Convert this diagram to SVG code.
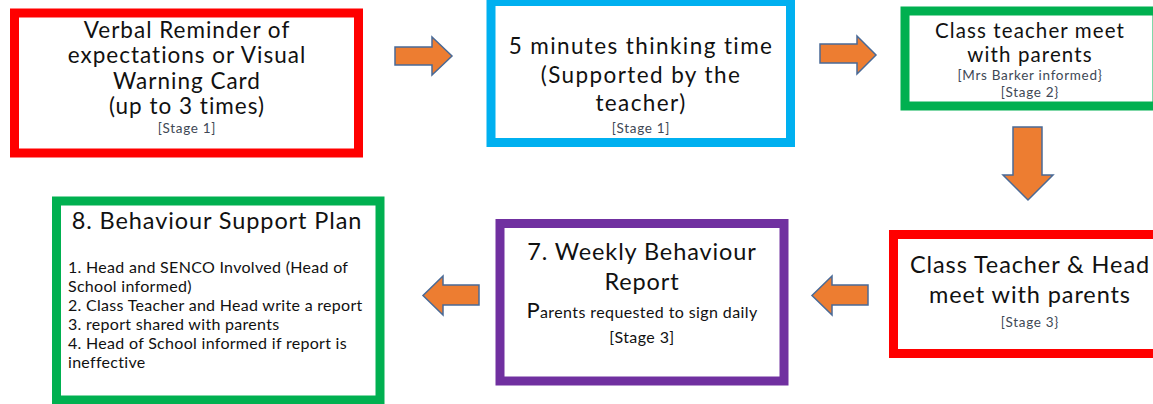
<svg xmlns="http://www.w3.org/2000/svg" width="1153" height="404" viewBox="0 0 1153 404">
<defs>
<style>
.box{fill:#fff;stroke-width:9}
.red{stroke:#FF0000}
.blue{stroke:#00B0F0}
.green{stroke:#00B050}
.purple{stroke:#7030A0}
text{font-family:Lato,"Open Sans","Liberation Sans",sans-serif;fill:#111}
.c{text-anchor:middle}
.big{font-size:22.5px;letter-spacing:1px}
.big2{font-size:22.5px;letter-spacing:1.4px}
.lg{font-size:23.5px;letter-spacing:0.9px}
.mid{font-size:20.5px;letter-spacing:1.1px}
.sm{font-size:13.5px;letter-spacing:0.7px;fill:#404855}
.body{font-size:16px;letter-spacing:0.4px}
.list{font-size:16px;letter-spacing:0.3px}
.arrow{fill:#ED7D31;stroke:#4A6A96;stroke-width:1.5;stroke-linejoin:miter}
</style>
</defs>
<rect width="1153" height="404" fill="#fff"/>
<g id="node1">
<rect class="box red" x="14.5" y="13" width="344" height="140"/>
<text class="c big" x="187" y="38">Verbal Reminder of</text>
<text class="c big" x="187" y="63">expectations or Visual</text>
<text class="c big" x="187" y="88.5">Warning Card</text>
<text class="c big" x="187" y="113.5">(up to 3 times)</text>
<text class="c sm" x="187" y="133">[Stage 1]</text>
</g>
<g id="node2">
<rect class="box blue" x="491" y="1.5" width="299.5" height="141"/>
<text class="c big2" x="641" y="54">5 minutes thinking time</text>
<text class="c big2" x="641" y="83">(Supported by the</text>
<text class="c big2" x="641" y="111">teacher)</text>
<text class="c sm" x="641" y="133">[Stage 1]</text>
</g>
<g id="node3">
<rect class="box green" x="905" y="11" width="252" height="95"/>
<text class="c mid" x="1030" y="38">Class teacher meet</text>
<text class="c mid" x="1030" y="62">with parents</text>
<text class="c sm" x="1030" y="80">[Mrs Barker informed}</text>
<text class="c sm" x="1030" y="97">[Stage 2}</text>
</g>
<g id="node4">
<rect class="box red" x="893.5" y="234.5" width="270" height="119"/>
<text class="c lg" x="1030" y="273">Class Teacher &amp; Head</text>
<text class="c lg" x="1030" y="303">meet with parents</text>
<text class="c sm" x="1030" y="327">[Stage 3}</text>
</g>
<g id="node7">
<rect class="box purple" x="500" y="223.5" width="284" height="157.5"/>
<text class="c lg" x="642" y="260">7. Weekly Behaviour</text>
<text class="c lg" x="642" y="290">Report</text>
<text class="c body" x="642" y="318"><tspan style="font-size:22px">P</tspan>arents requested to sign daily</text>
<text class="c body" x="642" y="343">[Stage 3]</text>
</g>
<g id="node8">
<rect class="box green" x="56.5" y="201" width="323.5" height="199"/>
<text class="c lg" x="217" y="229">8. Behaviour Support Plan</text>
<text class="list" x="68" y="273">1. Head and SENCO Involved (Head of</text>
<text class="list" x="68" y="292">School informed)</text>
<text class="list" x="68" y="311">2. Class Teacher and Head write a report</text>
<text class="list" x="68" y="330">3. report shared with parents</text>
<text class="list" x="68" y="349">4. Head of School informed if report is</text>
<text class="list" x="68" y="368">ineffective</text>
</g>
<g id="connectors">
<polygon class="arrow" points="395,47 432,47 432,37 452,56 432,75 432,65 395,65"/>
<polygon class="arrow" points="820,44 857,44 857,36 876,55 857,74 857,63 820,63"/>
<polygon class="arrow" points="1013,127 1042,127 1042,175 1053,175 1028,200 1003,175 1013,175"/>
<polygon class="arrow" points="868,285 832,285 832,276 812,295.5 832,315 832,305 868,305"/>
<polygon class="arrow" points="479,285 443,285 443,276 423,295.5 443,315 443,305 479,305"/>
</g>
</svg>
